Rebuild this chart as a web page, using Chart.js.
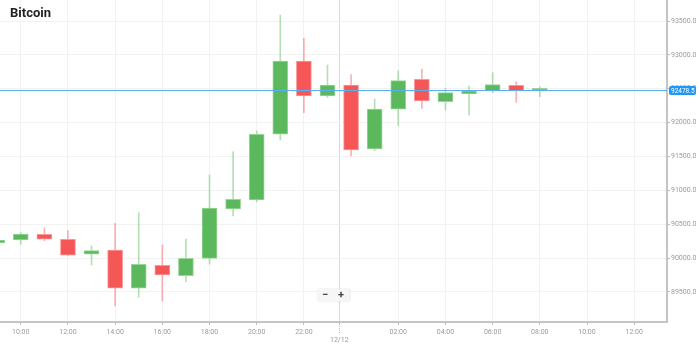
<!DOCTYPE html>
<html>
<head>
<meta charset="utf-8">
<script src="https://cdn.jsdelivr.net/npm/chart.js@4.4.1/dist/chart.umd.min.js"></script>
<style>
  html, body { margin: 0; padding: 0; background: #fff; }
  #wrap { position: relative; width: 699px; height: 344px; }
</style>
</head>
<body>
<div id="wrap"><canvas id="btcChart"></canvas></div>
<script>
// hourly candles, 09:00 on 11/12 through 08:00 on 12/12 (hours counted from 11/12 00:00)
const hours = [9, 10, 11, 12, 13, 14, 15, 16, 17, 18, 19, 20, 21, 22, 23, 24, 25, 26, 27, 28, 29, 30, 31, 32];
const opens = [90223, 90268, 90352, 90278, 90057, 90120, 89555, 89894, 89741, 89997, 90725, 90858,
  91828, 92910, 92393, 92555, 91611, 92197, 92639, 92309, 92423, 92471, 92551, 92475];
const highs = [90285, 90375, 90449, 90405, 90179, 90514, 90670, 90194, 90282, 91227, 91571, 91876,
  93589, 93245, 92851, 92710, 92349, 92766, 92792, 92507, 92541, 92737, 92604, 92530];
const lows = [90205, 90204, 90257, 90035, 89899, 89293, 89422, 89367, 89652, 89913, 90622, 90830,
  91744, 92147, 92374, 91507, 91586, 91955, 92211, 92186, 92113, 92442, 92300, 92383];
const closes = [90268, 90356, 90278, 90042, 90110, 89555, 89909, 89751, 89997, 90740, 90868, 91828,
  92910, 92393, 92555, 91596, 92201, 92619, 92319, 92442, 92471, 92560, 92471, 92478.5];

const lastPrice = 92478.5;
const dayBreak = 23.5;
const tickHours = [10, 12, 14, 16, 18, 20, 22, 23.5, 26, 28, 30, 32, 34, 36];
const tickLabels = ["10:00", "12:00", "14:00", "16:00", "18:00", "20:00", "22:00", ["", "12/12"],
  "02:00", "04:00", "06:00", "08:00", "10:00", "12:00"];
const priceTicks = [89500, 90000, 90500, 91000, 91500, 92000, 92500, 93000, 93500];

const up = hours.map((h, i) => closes[i] >= opens[i]);

// title, last price line + tag, day tick, zoom buttons
const overlay = {
  id: "overlay",
  afterDatasetsDraw(chart) {
    const ctx = chart.ctx;
    const area = chart.chartArea;
    const y = Math.round(chart.scales.y.getPixelForValue(lastPrice)) + 0.5;
    ctx.save();
    ctx.strokeStyle = "#58aef2";
    ctx.lineWidth = 1;
    ctx.beginPath();
    ctx.moveTo(area.left, y);
    ctx.lineTo(area.right, y);
    ctx.stroke();
    ctx.fillStyle = "#2196f3";
    ctx.beginPath();
    ctx.roundRect(area.right + 2, y - 4.5, 27, 9, 2);
    ctx.fill();
    ctx.fillStyle = "#fff";
    ctx.font = "6.5px Roboto";
    ctx.textBaseline = "middle";
    ctx.fillText(lastPrice.toFixed(1), area.right + 4, y + 0.5);

    ctx.font = "bold 13px Roboto";
    ctx.fillStyle = "#222";
    ctx.textBaseline = "alphabetic";
    ctx.fillText("Bitcoin", 10, 17);

    // dotted day tick under the axis
    const dx = Math.round(chart.scales.x.getPixelForValue(dayBreak)) + 0.5;
    ctx.strokeStyle = "#bbb";
    ctx.setLineDash([1, 1]);
    ctx.beginPath();
    ctx.moveTo(dx, area.bottom + 2);
    ctx.lineTo(dx, area.bottom + 12);
    ctx.stroke();
    ctx.setLineDash([]);

    // zoom control
    ctx.shadowColor = "rgba(0,0,0,0.12)";
    ctx.shadowBlur = 2;
    ctx.fillStyle = "#f6f6f6";
    ctx.fillRect(317.5, 289, 32, 12);
    ctx.shadowColor = "transparent";
    ctx.fillStyle = "#444";
    ctx.font = "bold 11px Roboto";
    ctx.textAlign = "center";
    ctx.textBaseline = "middle";
    ctx.fillText("\u2212", 325, 295);
    ctx.fillText("+", 341, 295);
    ctx.restore();
  }
};

new Chart(document.getElementById("btcChart"), {
  type: "bar",
  data: {
    datasets: [
      {
        label: "wick",
        data: hours.map((h, i) => ({ x: h, y: [lows[i], highs[i]] })),
        backgroundColor: up.map(u => u ? "rgba(92, 184, 92, 0.45)" : "rgba(245, 85, 85, 0.45)"),
        barThickness: 1,
        grouped: false,
        order: 2,
      },
      {
        label: "body",
        data: hours.map((h, i) => ({ x: h, y: [opens[i], closes[i]] })),
        backgroundColor: up.map(u => u ? "#5cb85c" : "#f55656"),
        borderColor: up.map(u => u ? "rgba(150, 215, 150, 1)" : "rgba(250, 150, 150, 1)"),
        borderWidth: 1,
        borderSkipped: false,
        barThickness: 15,
        minBarLength: 2,
        grouped: false,
        order: 1,
      },
    ],
  },
  options: {
    responsive: true,
    maintainAspectRatio: false,
    animation: false,
    layout: { padding: 0 },
    plugins: {
      legend: { display: false },
      tooltip: { enabled: false },
    },
    scales: {
      x: {
        type: "linear",
        offset: false,
        min: 9.12,
        max: 37.39,
        afterBuildTicks: s => { s.ticks = tickHours.map(v => ({ value: v })); },
        afterFit: s => {
          s.height = 22;
          s.paddingLeft = 0;
          s.paddingRight = 0;
        },
        ticks: {
          autoSkip: false,
          maxRotation: 0,
          padding: 3,
          color: "#9a9a9a",
          font: { family: "Roboto", size: 7 },
          callback: v => tickLabels[tickHours.indexOf(v)],
        },
        grid: {
          offset: false,
          color: c => (c.tick && c.tick.value === dayBreak) ? "#d8d8d8" : "#f2f2f2",
          tickColor: "#bbb",
          tickLength: 3,
        },
        border: { color: "#c4c4c4", width: 2 },
      },
      y: {
        position: "right",
        min: 89057,
        max: 93810,
        afterBuildTicks: s => { s.ticks = priceTicks.map(v => ({ value: v })); },
        afterFit: s => {
          s.width = 32;
          s.paddingTop = 0;
          s.paddingBottom = 0;
        },
        ticks: {
          padding: 1,
          color: "#9a9a9a",
          font: { family: "Roboto", size: 7 },
          callback: v => v.toFixed(1),
        },
        grid: {
          color: "#f2f2f2",
          tickColor: "#bbb",
          tickLength: 3,
        },
        border: { color: "#c4c4c4", width: 2 },
      },
    },
  },
  plugins: [overlay],
});
</script>
</body>
</html>
